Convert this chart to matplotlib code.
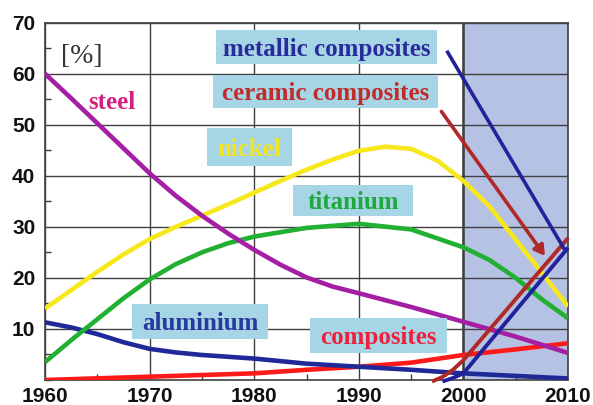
import matplotlib
matplotlib.use("Agg")
import matplotlib.pyplot as plt
from matplotlib.patches import Rectangle, FancyArrowPatch
from matplotlib.ticker import MultipleLocator

# ---------------- data ----------------
steel_years = [1960, 1962.5, 1965, 1967.5, 1970, 1972.5, 1975, 1977.5, 1980, 1982.5, 1985,
               1987.5, 1990, 1995, 2000, 2005, 2010]
steel_vals = [60, 55.2, 50.3, 45.4, 40.5, 36.1, 32.2, 28.7, 25.5, 22.6, 20.1,
              18.3, 17.0, 14.3, 11.4, 8.5, 5.3]

nickel_years = [1960, 1962.5, 1965, 1967.5, 1970, 1972.5, 1975, 1977.5, 1980, 1982.5, 1985,
                1987.5, 1990, 1992.5, 1995, 1997.5, 2000, 2002.5, 2005, 2007.5, 2010]
nickel_vals = [14, 17.6, 21.2, 24.6, 27.6, 30.0, 32.2, 34.4, 36.7, 39.0, 41.2,
               43.2, 44.9, 45.7, 45.3, 43.0, 39.0, 34.0, 27.5, 21.0, 14.4]

titanium_years = [1960, 1962.5, 1965, 1967.5, 1970, 1972.5, 1975, 1977.5, 1980, 1985,
                  1990, 1995, 2000, 2002.5, 2005, 2007.5, 2010]
titanium_vals = [3.5, 7.8, 11.9, 16.0, 19.7, 22.7, 25.0, 26.8, 28.1, 29.8,
                 30.6, 29.5, 26.0, 23.5, 20.0, 15.8, 12.1]

aluminium_years = [1960, 1962.5, 1965, 1967.5, 1970, 1972.5, 1975, 1980, 1985, 1990,
                   1995, 2000, 2005, 2010]
aluminium_vals = [11.3, 10.3, 9.0, 7.4, 6.1, 5.4, 4.9, 4.2, 3.2, 2.6,
                  2.0, 1.3, 0.8, 0.3]

composites_years = [1960, 1970, 1980, 1985, 1990, 1995, 2000, 2005, 2010]
composites_vals = [0, 0.65, 1.3, 2.0, 2.6, 3.4, 4.9, 6.0, 7.2]

ceramic_years = [1997, 1998, 1999, 2000, 2010]
ceramic_vals = [-0.3, 0.6, 2.0, 3.9, 27.8]

metallic_years = [1998, 1999, 2000, 2010]
metallic_vals = [-0.3, 0.4, 1.3, 25.9]

# pointer lines from the labels
metallic_pointer_x = [1998.5, 2009.6]
metallic_pointer_y = [64.2, 25.8]
ceramic_pointer_x = [1997.9, 2007.8]
ceramic_pointer_y = [52.6, 24.3]

x_ticks = [1960, 1970, 1980, 1990, 2000, 2010]
y_ticks = [10, 20, 30, 40, 50, 60, 70]
future_span = [2000, 2010]

# ---------------- figure ----------------
fig = plt.figure(figsize=(5.93, 4.05), dpi=100)
ax = fig.add_axes([45 / 593, 1 - 380 / 405, 523 / 593, 357.3 / 405])
ax.set_xlim(1960, 2010)
ax.set_ylim(0, 70)

ax.axvspan(future_span[0], future_span[1], facecolor="#b6c2e3", edgecolor="none", zorder=0)

ax.set_xticks(x_ticks)
ax.set_yticks(y_ticks)
ax.xaxis.set_minor_locator(MultipleLocator(5))
ax.yaxis.set_minor_locator(MultipleLocator(5))
ax.tick_params(which="major", length=0, pad=7)
ax.tick_params(which="minor", direction="in", length=4, width=1, color="#404040")
ax.grid(True, which="major", color="#404040", linewidth=1.0, zorder=1)
ax.axvline(2000, color="#404040", linewidth=1.8, zorder=1)
for s in ax.spines.values():
    s.set_color("#404040")
    s.set_linewidth(1.2)

for lab in ax.get_xticklabels() + ax.get_yticklabels():
    lab.set_fontfamily("Liberation Sans")
    lab.set_fontweight("bold")
    lab.set_fontsize(15)
    lab.set_color("#111111")
ax.tick_params(axis="x", pad=5)

lw = 3.3
kw = dict(lw=lw, zorder=4, solid_capstyle="butt", solid_joinstyle="round")
ax.plot(composites_years, composites_vals, color="#ff1a1a", **kw)
ax.plot(aluminium_years, aluminium_vals, color="#1f2a98", **kw)
ax.plot(titanium_years, titanium_vals, color="#22b032", **kw)
ax.plot(nickel_years, nickel_vals, color="#f7e81c", **kw)
ax.plot(steel_years, steel_vals, color="#a41fa4", **kw)
ax.plot(ceramic_years, ceramic_vals, color="#b02828", lw=2.8, zorder=5, clip_on=False,
        solid_capstyle="butt", solid_joinstyle="round")
ax.plot(metallic_years, metallic_vals, color="#22229c", lw=2.8, zorder=5, clip_on=False,
        solid_capstyle="butt", solid_joinstyle="round")

ax.plot(metallic_pointer_x, metallic_pointer_y, color="#22229c", lw=2.6, zorder=5)
ax.add_patch(FancyArrowPatch((ceramic_pointer_x[0], ceramic_pointer_y[0]),
                             (ceramic_pointer_x[1], ceramic_pointer_y[1]),
                             arrowstyle="-|>,head_length=6,head_width=3.5",
                             color="#b02828", lw=2.6, zorder=5, shrinkA=0, shrinkB=0))

# ---------------- labels ----------------
def px2data(x, y):
    return 1960 + (x - 45) / 10.46, (380 - y) / 5.104

box_color = "#a6d6e6"
label_size = 18

def boxed(text, x0, x1, y0, y1, color):
    dx0, dy1 = px2data(x0, y1)
    dx1, dy0 = px2data(x1, y0)
    ax.add_patch(Rectangle((dx0, dy1), dx1 - dx0, dy0 - dy1, facecolor=box_color,
                           edgecolor="none", zorder=6))
    ax.text((dx0 + dx1) / 2, (dy0 + dy1) / 2, text, ha="center", va="center_baseline",
            fontfamily="Liberation Serif", fontweight="bold", fontsize=label_size,
            color=color, zorder=7)

boxed("metallic composites", 216, 437, 30, 64, "#2a2a9c")
boxed("ceramic composites", 213, 438, 75, 108, "#c02c2c")
boxed("nickel", 207, 292, 128, 166, "#f2e424")
boxed("titanium", 293, 413, 185, 216, "#1fa83c")
boxed("aluminium", 132, 268, 304, 339, "#283a9c")
boxed("composites", 310, 447, 318, 353, "#f0203c")

sx, sy = px2data(112, 100)
ax.text(sx, sy, "steel", ha="center", va="center_baseline", fontfamily="Liberation Serif",
        fontweight="bold", fontsize=label_size, color="#d4207e", zorder=7)
px, py = px2data(82, 54)
ax.text(px, py, "[%]", ha="center", va="center_baseline", fontfamily="Liberation Serif",
        fontsize=20, color="#333333", zorder=7)

fig.savefig("out.png", dpi=100)
